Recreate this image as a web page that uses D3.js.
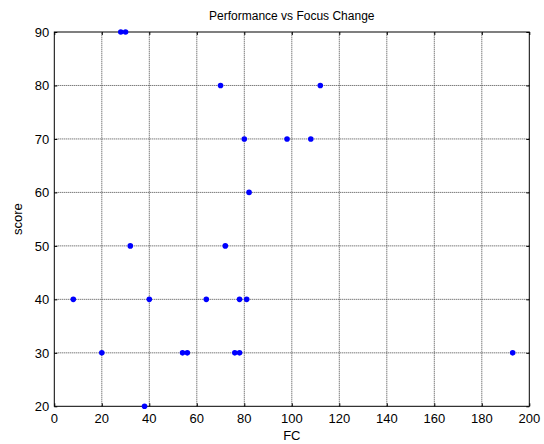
<!DOCTYPE html>
<html>
<head>
<meta charset="utf-8">
<script src="https://cdn.jsdelivr.net/npm/d3@7.9.0/dist/d3.min.js"></script>
<style>
  body { margin: 0; background: #fff; }
  svg { display: block; font-family: "Liberation Sans", Arial, sans-serif; }
</style>
</head>
<body>
<svg id="chart" width="544" height="444"></svg>
<script>
// data
const fcValues = [28, 30, 70, 112, 80, 98, 108, 82, 32, 72, 8, 40, 64, 78, 81, 20, 54, 56, 76, 78, 193, 38];
const scoreValues = [90, 90, 80, 80, 70, 70, 70, 60, 50, 50, 40, 40, 40, 40, 40, 30, 30, 30, 30, 30, 30, 20];
const xTicks = [0, 20, 40, 60, 80, 100, 120, 140, 160, 180, 200];
const yTicks = [20, 30, 40, 50, 60, 70, 80, 90];

const margin = { left: 54.3, right: 14.7, top: 32, bottom: 37.7 };
const width = 544, height = 444;
const svg = d3.select('#chart');

const x = d3.scaleLinear().domain([0, 200]).range([margin.left, width - margin.right]);
const y = d3.scaleLinear().domain([20, 90]).range([height - margin.bottom, margin.top]);

// grid
let grid = svg.append('g');
grid.selectAll('line.gx')
    .data(xTicks.slice(1, -1))
    .enter()
    .append('line')
    .attr('x1', d => x(d)).attr('x2', d => x(d))
    .attr('y1', y(20)).attr('y2', y(90))
    .attr('stroke', '#444').attr('stroke-width', 1)
    .attr('stroke-dasharray', '1,1');
grid.selectAll('line.gy')
    .data(yTicks.slice(1, -1))
    .enter()
    .append('line')
    .attr('y1', d => y(d)).attr('y2', d => y(d))
    .attr('x1', x(0)).attr('x2', x(200))
    .attr('stroke', '#444').attr('stroke-width', 1)
    .attr('stroke-dasharray', '1,1');

// axes (ticks pointing inward, on all four sides)
svg.append('g')
    .attr('transform', `translate(0,${y(20)})`)
    .call(d3.axisTop(x).tickValues(xTicks).tickSize(3).tickFormat(''))
    .call(g => g.select('.domain').remove());
svg.append('g')
    .attr('transform', `translate(0,${y(90)})`)
    .call(d3.axisBottom(x).tickValues(xTicks).tickSize(3).tickFormat(''))
    .call(g => g.select('.domain').remove());
svg.append('g')
    .attr('transform', `translate(${x(0)},0)`)
    .call(d3.axisRight(y).tickValues(yTicks).tickSize(3).tickFormat(''))
    .call(g => g.select('.domain').remove());
svg.append('g')
    .attr('transform', `translate(${x(200)},0)`)
    .call(d3.axisLeft(y).tickValues(yTicks).tickSize(3).tickFormat(''))
    .call(g => g.select('.domain').remove());

// tick labels
svg.append('g').selectAll('text')
    .data(xTicks)
    .enter()
    .append('text')
    .attr('x', d => x(d))
    .attr('y', y(20) + 17)
    .attr('text-anchor', 'middle')
    .attr('font-size', 13)
    .text(d => d);
svg.append('g').selectAll('text')
    .data(yTicks)
    .enter()
    .append('text')
    .attr('x', x(0) - 5)
    .attr('y', d => y(d) + 5)
    .attr('text-anchor', 'end')
    .attr('font-size', 13)
    .text(d => d);

// box
svg.append('rect')
    .attr('x', x(0)).attr('y', y(90))
    .attr('width', x(200) - x(0)).attr('height', y(20) - y(90))
    .attr('fill', 'none').attr('stroke', '#000').attr('stroke-width', 1);

// points
svg.append('g').selectAll('circle')
    .data(fcValues.map((v, i) => ({ fc: v, score: scoreValues[i] })))
    .enter()
    .append('circle')
    .attr('cx', d => x(d.fc))
    .attr('cy', d => y(d.score))
    .attr('r', 2.8)
    .attr('fill', '#0000ff');

// labels
svg.append('text')
    .attr('x', (x(0) + x(200)) / 2).attr('y', 20)
    .attr('text-anchor', 'middle').attr('font-size', 12)
    .text('Performance vs Focus Change');
svg.append('text')
    .attr('x', (x(0) + x(200)) / 2).attr('y', 440)
    .attr('text-anchor', 'middle').attr('font-size', 13)
    .text('FC');
svg.append('text')
    .attr('transform', `translate(22,${(y(20) + y(90)) / 2}) rotate(-90)`)
    .attr('text-anchor', 'middle').attr('font-size', 13)
    .text('score');
</script>
</body>
</html>
